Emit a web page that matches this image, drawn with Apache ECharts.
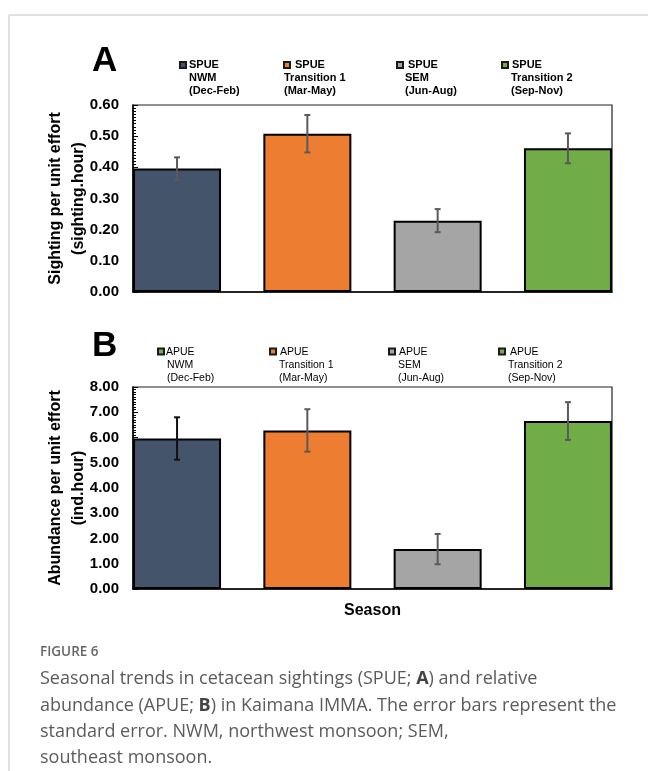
<!DOCTYPE html>
<html>
<head>
<meta charset="utf-8">
<script src="https://cdn.jsdelivr.net/npm/echarts@6/dist/echarts.min.js"></script>
<style>
html,body{margin:0;padding:0;background:#fff;}
#chart{width:648px;height:771px;}
</style>
</head>
<body>
<div id="chart"></div>
<script>
// ---- data ----
const seasons = ['NWM', 'Transition 1', 'SEM', 'Transition 2'];
const seasonMonths = ['(Dec-Feb)', '(Mar-May)', '(Jun-Aug)', '(Sep-Nov)'];
const spueValues = [0.396, 0.508, 0.229, 0.461];
const spueErrors = [0.036, 0.060, 0.037, 0.048];
const apueValues = [5.96, 6.28, 1.58, 6.65];
const apueErrors = [0.84, 0.84, 0.60, 0.75];
const spueAxis = { min: 0, max: 0.6, interval: 0.1 };
const apueAxis = { min: 0, max: 8, interval: 1 };

// ---- styles ----
const barColors = ['#44546A', '#ED7D31', '#A5A5A5', '#70AD47'];
const legendColorsA = ['#44546A', '#ED7D31', '#A5A5A5', '#70AD47'];
const legendColorsB = ['#70AD47', '#ED7D31', '#A5A5A5', '#70AD47'];
const errColorsA = ['#5a5a5a', '#5a5a5a', '#5a5a5a', '#5a5a5a'];
const errColorsB = ['#111111', '#5a5a5a', '#5a5a5a', '#5a5a5a'];
const FONT = '"Liberation Sans", Arial, Helvetica, sans-serif';
const CAPFONT = '"Open Sans", "Noto Sans", sans-serif';

const chart = echarts.init(document.getElementById('chart'), null, { renderer: 'canvas' });

function errRender(colors) {
  return function (params, api) {
    const i = api.value(0);
    const lo = api.coord([i, api.value(1)]);
    const hi = api.coord([i, api.value(2)]);
    const c = colors[params.dataIndex];
    const st = { stroke: c, lineWidth: 2 };
    const w = 3;
    return {
      type: 'group',
      children: [
        { type: 'line', shape: { x1: lo[0], y1: lo[1], x2: hi[0], y2: hi[1] }, style: st },
        { type: 'line', shape: { x1: lo[0] - w, y1: lo[1], x2: lo[0] + w, y2: lo[1] }, style: st },
        { type: 'line', shape: { x1: hi[0] - w, y1: hi[1], x2: hi[0] + w, y2: hi[1] }, style: st }
      ]
    };
  };
}

function yAxisDef(idx, ax, name, decimals) {
  return {
    gridIndex: idx, type: 'value', min: ax.min, max: ax.max, interval: ax.interval,
    name: name, nameLocation: 'middle', nameGap: 43, nameMoveOverlap: false,
    nameTextStyle: { fontFamily: FONT, fontWeight: 'bold', fontSize: 16, color: '#000', lineHeight: 23 },
    axisLine: { show: true, onZero: false, lineStyle: { color: '#000', width: 1.5 } },
    axisTick: { show: true, inside: true, length: 5, lineStyle: { color: '#000', width: 1 } },
    minorTick: { show: true, splitNumber: 10, length: 3, lineStyle: { color: '#000', width: 1 } },
    splitLine: { show: false },
    axisLabel: { fontFamily: FONT, fontWeight: 'bold', fontSize: 15, color: '#000', margin: 14,
      formatter: v => v.toFixed(decimals) }
  };
}
function xAxisDef(idx, name) {
  return {
    gridIndex: idx, type: 'value', min: -0.338, max: 3.338,
    name: name, nameLocation: 'middle', nameGap: 14, nameMoveOverlap: false,
    nameTextStyle: { fontFamily: FONT, fontWeight: 'bold', fontSize: 16, color: '#000' },
    axisLine: { show: true, onZero: false, lineStyle: { color: '#000', width: 1.5 } },
    axisTick: { show: false }, axisLabel: { show: false }, splitLine: { show: false }
  };
}

function legendGraphics(prefix, colors, markerX, markerY, line1X, restX, lineY, bold, size) {
  const out = [];
  seasons.forEach((s, i) => {
    out.push({ type: 'rect', shape: { x: markerX[i], y: markerY, width: 6, height: 6 },
      style: { fill: colors[i], stroke: '#1a1a1a', lineWidth: 2 } });
    const ts = { fontFamily: FONT, fontWeight: bold ? 'bold' : 'normal', fontSize: size, fill: '#000',
      textVerticalAlign: 'middle', textAlign: 'left' };
    out.push({ type: 'text', x: line1X[i], y: lineY[0], style: Object.assign({ text: prefix }, ts) });
    out.push({ type: 'text', x: restX[i], y: lineY[1], style: Object.assign({ text: s }, ts) });
    out.push({ type: 'text', x: restX[i], y: lineY[2], style: Object.assign({ text: seasonMonths[i] }, ts) });
  });
  return out;
}

const graphics = [
  { type: 'line', shape: { x1: 9, y1: 15, x2: 648, y2: 15 }, style: { stroke: '#d6d6d6', lineWidth: 1.5 } },
  { type: 'line', shape: { x1: 9, y1: 15, x2: 9, y2: 771 }, style: { stroke: '#d6d6d6', lineWidth: 1.5 } },
  { type: 'text', x: 92, y: 61, style: { text: 'A', fontFamily: FONT, fontWeight: 'bold', fontSize: 35, fill: '#000', textVerticalAlign: 'middle' } },
  { type: 'text', x: 92, y: 346, style: { text: 'B', fontFamily: FONT, fontWeight: 'bold', fontSize: 35, fill: '#000', textVerticalAlign: 'middle' } },
  { type: 'text', x: 40, y: 652, style: { text: 'FIGURE 6', fontFamily: CAPFONT, fontWeight: 600, fontSize: 13.5, fill: '#666', textVerticalAlign: 'middle' } },
  { type: 'text', x: 40, y: 666, style: {
      text: 'Seasonal trends in cetacean sightings (SPUE; {b|A}) and relative\nabundance (APUE; {b|B}) in Kaimana IMMA. The error bars represent the\nstandard error. NWM, northwest monsoon; SEM,\nsoutheast monsoon.',
      fontFamily: CAPFONT, fontSize: 18, fill: '#5b5b5b', lineHeight: 26.3,
      rich: { b: { fontFamily: CAPFONT, fontSize: 18, fontWeight: 'bold', fill: '#444', lineHeight: 26.3 } }
  } }
].concat(
  legendGraphics('SPUE', legendColorsA, [180, 284, 397, 502], 62, [189, 295, 408, 512], [189, 284, 405, 511], [65, 78, 91], true, 11),
  legendGraphics('APUE', legendColorsB, [158, 270, 389, 499], 348.5, [166, 280, 399, 510], [167, 279, 398, 508], [352, 365, 378], false, 10.5)
);

const option = {
  animation: false,
  backgroundColor: '#fff',
  grid: [
    { left: 133, top: 105, width: 479, height: 187, show: true, borderColor: '#222', borderWidth: 1.2, backgroundColor: 'transparent' },
    { left: 133, top: 387, width: 479, height: 202, show: true, borderColor: '#222', borderWidth: 1.2, backgroundColor: 'transparent' }
  ],
  xAxis: [xAxisDef(0, ''), xAxisDef(1, 'Season')],
  yAxis: [
    yAxisDef(0, spueAxis, 'Sighting per unit effort\n(sighting.hour)', 2),
    yAxisDef(1, apueAxis, 'Abundance per unit effort\n(ind.hour)', 2)
  ],
  series: [
    { type: 'bar', xAxisIndex: 0, yAxisIndex: 0, barWidth: 88,
      data: spueValues.map((v, i) => ({ value: [i, v], itemStyle: { color: barColors[i] } })),
      itemStyle: { borderColor: '#000', borderWidth: 2 } },
    { type: 'custom', xAxisIndex: 0, yAxisIndex: 0, renderItem: errRender(errColorsA), z: 5,
      data: spueValues.map((v, i) => [i, v - spueErrors[i], v + spueErrors[i]]) },
    { type: 'bar', xAxisIndex: 1, yAxisIndex: 1, barWidth: 88,
      data: apueValues.map((v, i) => ({ value: [i, v], itemStyle: { color: barColors[i] } })),
      itemStyle: { borderColor: '#000', borderWidth: 2 } },
    { type: 'custom', xAxisIndex: 1, yAxisIndex: 1, renderItem: errRender(errColorsB), z: 5,
      data: apueValues.map((v, i) => [i, v - apueErrors[i], v + apueErrors[i]]) }
  ],
  graphic: graphics
};
chart.setOption(option);
</script>
</body>
</html>
